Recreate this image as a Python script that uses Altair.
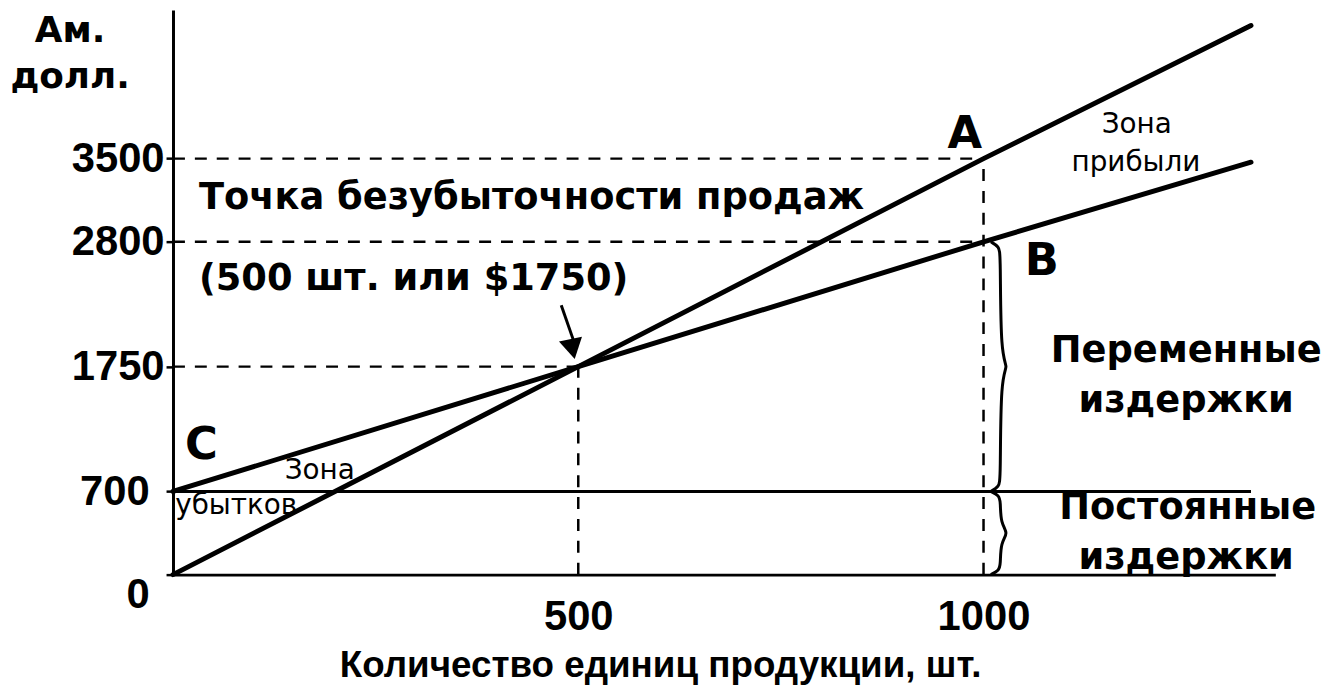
import altair as alt
import pandas as pd

# ---- data ----
qty = [0, 500, 1000, 1330]
revenue = [0, 1750, 3500, 4620]
total_cost = [700, 1750, 2800, 3470]
fixed_cost = [700, 700, 700, 700]

x_ticks = [500, 1000]
y_ticks = [0, 700, 1750, 2800, 3500]

# dashed guide lines (from / to)
guide_x = [0, 0, 0, 500, 1000]
guide_x2 = [1000, 1000, 500, 500, 1000]
guide_y = [3500, 2800, 1750, 0, 0]
guide_y2 = [3500, 2800, 1750, 1750, 3500]

# arrow pointing at the break-even point
arrow_x = [479]
arrow_y = [2266]
arrow_x2 = [494]
arrow_y2 = [1973]
arrow_head_x = [493]
arrow_head_y = [1898]

# braces for variable and fixed costs at Q = 1000
brace_at = 1000
brace_ranges = [(700, 2800), (0, 700)]

# annotations
title_text = ["Точка безубыточности продаж", "(500 шт. или $1750)"]
title_x = [32, 32]
title_y = [3077, 2391]

side_text = ["Переменные", "издержки", "Постоянные", "издержки"]
side_x = [1250, 1250, 1252, 1250]
side_y = [1789, 1371, 468, 50]

point_text = ["A", "B", "C"]
point_x = [977, 1072, 35]
point_y = [3587, 2517, 970]

zone_text = ["Зона", "прибыли", "Зона", "убытков"]
zone_x = [1189, 1188, 181, 78]
zone_y = [3712, 3395, 803, 510]

# ---- frames ----
lines_df = pd.DataFrame({"q": qty, "rev": revenue, "tc": total_cost, "fc": fixed_cost})
guides_df = pd.DataFrame({"q": guide_x, "q2": guide_x2, "v": guide_y, "v2": guide_y2})
arrow_df = pd.DataFrame({"q": arrow_x, "q2": arrow_x2, "v": arrow_y, "v2": arrow_y2})
head_df = pd.DataFrame({"q": arrow_head_x, "v": arrow_head_y})

brace_rows = []
for k, (lo, hi) in enumerate(brace_ranges):
    m = (lo + hi) / 2
    d = min(100, (hi - lo) * 0.12)
    pts = [
        (brace_at + 9, hi), (brace_at + 19, hi - d * 0.4), (brace_at + 21, hi - d),
        (brace_at + 21, m + 80), (brace_at + 31, m), (brace_at + 21, m - 80),
        (brace_at + 21, lo + d), (brace_at + 19, lo + d * 0.4), (brace_at + 9, lo),
    ]
    for i, (px, py) in enumerate(pts):
        brace_rows.append({"q": px, "v": py, "k": k, "o": i})
brace_df = pd.DataFrame(brace_rows)

title_df = pd.DataFrame({"q": title_x, "v": title_y, "t": title_text})
side_df = pd.DataFrame({"q": side_x, "v": side_y, "t": side_text})
point_df = pd.DataFrame({"q": point_x, "v": point_y, "t": point_text})
zone_df = pd.DataFrame({"q": zone_x, "v": zone_y, "t": zone_text})

xscale = alt.Scale(domain=[0, 1360], nice=False)
yscale = alt.Scale(domain=[0, 4750], nice=False)

BOLD = "DejaVu Sans"
NUM = "Liberation Sans"

x_axis = alt.Axis(
    values=x_ticks, format="d", title="Количество единиц продукции, шт.", grid=False,
    ticks=False, domainColor="black", domainWidth=3,
    labelFont=NUM, labelFontSize=42, labelFontWeight="bold", labelColor="black",
    labelPadding=22,
    titleFont=NUM, titleFontSize=37, titleFontWeight="bold", titleColor="black",
    titleX=490, titleY=102, titleBaseline="alphabetic", titleAlign="center",
)
y_axis = alt.Axis(
    values=y_ticks, format="d", title=["Ам.", "долл."], grid=False,
    domainColor="black", domainWidth=3, tickColor="black", tickSize=7, tickWidth=2.5,
    labelFont=NUM, labelFontSize=42, labelFontWeight="bold", labelColor="black",
    labelPadding={"condition": {"test": "datum.value === 0 || datum.value === 700", "value": 17}, "value": 2},
    labelBaseline={"condition": {"test": "datum.value === 0", "value": "top"}, "value": "middle"},
    titleFont=BOLD, titleFontSize=36, titleFontWeight="bold", titleColor="black",
    titleAngle=0, titleAlign="center", titleBaseline="top", titleX=-104, titleY=4,
    titleLineHeight=46,
)

base = alt.Chart(lines_df)
revenue_line = base.mark_line(color="black", strokeWidth=5, strokeCap="round").encode(
    x=alt.X("q:Q", scale=xscale, axis=x_axis),
    y=alt.Y("rev:Q", scale=yscale, axis=y_axis),
)
cost_line = base.mark_line(color="black", strokeWidth=5, strokeCap="round").encode(
    x=alt.X("q:Q", scale=xscale),
    y=alt.Y("tc:Q", scale=yscale),
)
fixed_line = base.mark_line(color="black", strokeWidth=3).encode(
    x=alt.X("q:Q", scale=xscale),
    y=alt.Y("fc:Q", scale=yscale),
)
guides = alt.Chart(guides_df).mark_rule(color="black", strokeWidth=2.5, strokeDash=[12, 10]).encode(
    x=alt.X("q:Q", scale=xscale), x2="q2:Q",
    y=alt.Y("v:Q", scale=yscale), y2="v2:Q",
)
braces = alt.Chart(brace_df).mark_line(color="black", strokeWidth=3, interpolate="basis").encode(
    x=alt.X("q:Q", scale=xscale),
    y=alt.Y("v:Q", scale=yscale),
    detail="k:N", order="o:Q",
)
arrow = alt.Chart(arrow_df).mark_rule(color="black", strokeWidth=3).encode(
    x=alt.X("q:Q", scale=xscale), x2="q2:Q",
    y=alt.Y("v:Q", scale=yscale), y2="v2:Q",
)
head = alt.Chart(head_df).mark_point(
    shape="triangle-down", size=560, filled=True, color="black", opacity=1, angle=348
).encode(
    x=alt.X("q:Q", scale=xscale),
    y=alt.Y("v:Q", scale=yscale),
)


def text_layer(df, align, font, size, weight):
    return alt.Chart(df).mark_text(
        align=align, baseline="alphabetic", font=font, fontSize=size,
        fontWeight=weight, color="black",
    ).encode(
        x=alt.X("q:Q", scale=xscale),
        y=alt.Y("v:Q", scale=yscale),
        text="t:N",
    )


titles = text_layer(title_df, "left", BOLD, 37, "bold")
sides = text_layer(side_df, "center", BOLD, 37, "bold")
points = text_layer(point_df, "center", BOLD, 45, "bold")
zones = text_layer(zone_df, "center", BOLD, 28, "normal")

chart = alt.layer(
    revenue_line, cost_line, fixed_line, guides, braces, arrow, head,
    titles, sides, points, zones,
).properties(
    width=1109, height=568,
    autosize=alt.AutoSizeParams(type="none"),
    padding={"left": 166, "top": 0, "right": 53, "bottom": 112},
    background="white",
).configure_view(stroke=None)

chart.save("out.html", embed_options={"renderer": "svg", "actions": False})
